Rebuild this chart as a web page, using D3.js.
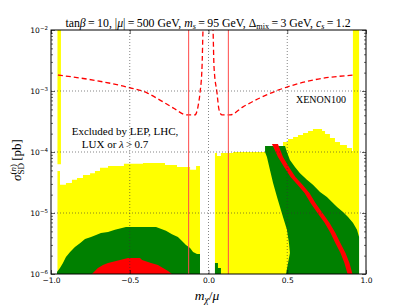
<!DOCTYPE html>
<meta charset="utf-8">
<style>
body { margin: 0; background: #fff; }
.tick text { font-family: "DejaVu Sans", sans-serif; font-size: 7.5px; fill: #000; }
.tick line { stroke: #000; stroke-width: .6px; }
.serif { font-family: "Liberation Serif", serif; fill: #000; }
.grid { stroke: #333; stroke-width: .6px; stroke-dasharray: 1,2; fill: none; }
.frame { stroke: #000; stroke-width: 1px; fill: none; }
</style>
<body>
<svg id="chart" width="407" height="305"></svg>
<script src="https://d3js.org/d3.v7.min.js"></script>
<script>

var pLeft = 51, pRight = 366, pTop = 30, pBottom = 274;
var YELLOW = "#ffff00", GREEN = "#008000", RED = "#ff0000";

// axis ticks
var xTicks = [-1, -0.5, 0, 0.5, 1];
var yTicks = [1e-6, 1e-5, 1e-4, 1e-3, 1e-2];
var xGrid = [-0.5, 0, 0.5];
var yGrid = [1e-5, 1e-4, 1e-3];

// yellow: thin strip at the left edge
var yStripX = [-0.959, -0.937];
var yStripTop = [1e-2, 1e-2];
var yStripLo = 6.3e-5;

// yellow, left lobe (step tops, from 1e-6)
var yLeftX = [-0.959, -0.943, -0.905, -0.867, -0.835, -0.797, -0.752, -0.721, -0.689, -0.638, -0.537, -0.416, -0.276, -0.2, -0.117, -0.079, -0.054];
var yLeftTop = [4.9e-5, 2.9e-5, 3.1e-5, 3.5e-5, 3.75e-5, 4.2e-5, 4.5e-5, 4.9e-5, 5.5e-5, 5.9e-5, 6.4e-5, 6.6e-5, 6.1e-5, 5.7e-5, 5.1e-5, 5.9e-5, 5.9e-5];

// yellow, middle + right (step tops)
var yRightX = [0.041, 0.054, 0.079, 0.156, 0.473, 0.505, 0.537, 0.568, 0.6, 0.632, 0.663, 0.721, 0.74, 0.771, 0.803, 0.835, 0.879, 0.911, 0.917, 0.956];
var yRightTop = [9.6e-5, 8.6e-5, 9.6e-5, 1.0e-4, 1.46e-4, 1.63e-4, 1.76e-4, 1.9e-4, 2.05e-4, 2.2e-4, 2.38e-4, 2.2e-4, 1.97e-4, 1.7e-4, 1.46e-4, 1.3e-4, 1.16e-4, 1.04e-4, 1e-2, 1e-2];

// green, left arc
var gLeftX = [-0.962, -0.943, -0.924, -0.905, -0.879, -0.848, -0.816, -0.784, -0.746, -0.714, -0.683, -0.638, -0.594, -0.524, -0.333, -0.27, -0.232, -0.194, -0.181, -0.162, -0.143, -0.117, -0.098, -0.073, -0.054];
var gLeftTop = [1.08e-6, 1.25e-6, 1.51e-6, 1.9e-6, 2.3e-6, 2.77e-6, 3.2e-6, 3.75e-6, 4.05e-6, 4.36e-6, 4.7e-6, 4.9e-6, 5.3e-6, 5.9e-6, 5.9e-6, 5.1e-6, 4.5e-6, 4.05e-6, 3.75e-6, 3.35e-6, 3.0e-6, 2.67e-6, 2.3e-6, 2.13e-6, 2.13e-6];

// green, small patch near zero
var gMidX = [0.041, 0.06, 0.079];
var gMidTop = [1.51e-6, 1.25e-6, 1.25e-6];

// green, right band (outline)
var gRightX = [0.359, 0.486, 0.498, 0.517, 0.549, 0.581, 0.625, 0.663, 0.708, 0.752, 0.784, 0.816, 0.854, 0.886, 0.917, 0.943, 0.956, 0.956, 0.492, 0.505, 0.517, 0.511, 0.498, 0.473, 0.454, 0.435, 0.410, 0.390, 0.371, 0.359];
var gRightY = [1.25e-4, 1.25e-4, 1e-4, 7.4e-5, 5.7e-5, 4.5e-5, 3.5e-5, 2.9e-5, 2.2e-5, 1.83e-5, 1.51e-5, 1.25e-5, 1.04e-5, 8.6e-6, 6.9e-6, 5.3e-6, 4.05e-6, 1e-6, 1e-6, 1.51e-6, 2.2e-6, 3.2e-6, 5.3e-6, 8.6e-6, 1.25e-5, 1.83e-5, 3.1e-5, 5.1e-5, 8.3e-5, 1e-4];

// red, left arc
var rLeftX = [-0.740, -0.721, -0.702, -0.670, -0.638, -0.587, -0.511, -0.435, -0.422, -0.365, -0.321, -0.289, -0.257, -0.232];
var rLeftTop = [1e-6, 1.12e-6, 1.25e-6, 1.41e-6, 1.51e-6, 1.63e-6, 1.83e-6, 1.83e-6, 1.7e-6, 1.51e-6, 1.41e-6, 1.25e-6, 1.12e-6, 1e-6];

// red, right stripe (left / right edge at each sigma)
var rRightY = [1.35e-4, 8.3e-5, 5.5e-5, 3.9e-5, 2.9e-5, 2.13e-5, 1.46e-5, 1e-5, 6.9e-6, 4.7e-6, 3.2e-6, 2.2e-6, 1.51e-6, 1e-6];
var rRightXL = [0.403, 0.441, 0.483, 0.521, 0.565, 0.610, 0.648, 0.692, 0.737, 0.775, 0.806, 0.838, 0.863, 0.883];
var rRightXR = [0.441, 0.473, 0.514, 0.552, 0.597, 0.641, 0.679, 0.724, 0.768, 0.806, 0.838, 0.870, 0.895, 0.914];

// XENON100 limit (dashed)
var xenonX = [-0.956, -0.733, -0.517, -0.390, -0.308, -0.225, -0.137, -0.086, -0.067, -0.054, -0.041, -0.035, -0.03, 0.025, 0.029, 0.035, 0.054, 0.067, 0.086, 0.137, 0.219, 0.327, 0.498, 0.663, 0.930];
var xenonY = [1.83e-3, 1.51e-3, 1.16e-3, 9.3e-4, 7.1e-4, 5.3e-4, 4.05e-4, 4.05e-4, 5.5e-4, 9.3e-4, 2.5e-3, 1e-2, 2e-2, 2e-2, 1e-2, 2.5e-3, 9.3e-4, 4.9e-4, 4.05e-4, 4.05e-4, 5.5e-4, 7.7e-4, 1.16e-3, 1.51e-3, 1.83e-3];

// vertical limits
var vLines = [-0.126, 0.126];

var x = d3.scaleLinear().domain([-1, 1]).range([pLeft, pRight]);
var y = d3.scaleLog().domain([1e-6, 1e-2]).range([pBottom, pTop]);

var svg = d3.select("#chart");

svg.append("defs").append("clipPath")
	.attr("id", "plotclip")
  .append("rect")
	.attr("x", pLeft).attr("y", pTop)
	.attr("width", pRight - pLeft).attr("height", pBottom - pTop);

var plot = svg.append("g").attr("clip-path", "url(#plotclip)");

function pts(xs, tops, lo) {
	return xs.map(function(v, i) { return [v, tops[i], lo]; });
}

var stepArea = d3.area().curve(d3.curveStepAfter)
	.x(function(d) { return x(d[0]); })
	.y0(function(d) { return y(d[2]); })
	.y1(function(d) { return y(d[1]); });

var linArea = d3.area()
	.x(function(d) { return x(d[0]); })
	.y0(function(d) { return y(d[2]); })
	.y1(function(d) { return y(d[1]); });

plot.append("path").attr("fill", YELLOW).attr("d", stepArea(pts(yStripX, yStripTop, yStripLo)));
plot.append("path").attr("fill", YELLOW).attr("d", stepArea(pts(yLeftX, yLeftTop, 1e-6)));
plot.append("path").attr("fill", YELLOW).attr("d", stepArea(pts(yRightX, yRightTop, 1e-6)));

plot.append("path").attr("fill", GREEN).attr("d", linArea(pts(gLeftX, gLeftTop, 1e-6)));
plot.append("path").attr("fill", GREEN).attr("d", stepArea(pts(gMidX, gMidTop, 1e-6)));
plot.append("path").attr("fill", GREEN)
	.attr("d", d3.line().x(function(d) { return x(d[0]); }).y(function(d) { return y(d[1]); })(d3.zip(gRightX, gRightY)) + "Z");

plot.append("path").attr("fill", RED).attr("d", linArea(pts(rLeftX, rLeftTop, 1e-6)));
plot.append("path").attr("fill", RED)
	.attr("d", d3.area()
		.y(function(d) { return y(d[0]); })
		.x0(function(d) { return x(d[1]); })
		.x1(function(d) { return x(d[2]); })(d3.zip(rRightY, rRightXL, rRightXR)));

// grid
svg.append("g").selectAll("line").data(xGrid).enter().append("line")
	.attr("class", "grid")
	.attr("x1", function(d) { return x(d); }).attr("x2", function(d) { return x(d); })
	.attr("y1", pTop).attr("y2", pBottom);
svg.append("g").selectAll("line").data(yGrid).enter().append("line")
	.attr("class", "grid")
	.attr("y1", function(d) { return y(d); }).attr("y2", function(d) { return y(d); })
	.attr("x1", pLeft).attr("x2", pRight);

plot.append("path")
	.datum(d3.zip(xenonX, xenonY))
	.attr("fill", "none").attr("stroke", RED).attr("stroke-width", 1.3)
	.attr("stroke-dasharray", "5,3")
	.attr("d", d3.line().curve(d3.curveMonotoneX)
		.x(function(d) { return x(d[0]); }).y(function(d) { return y(d[1]); }));

plot.selectAll(".vline").data(vLines).enter().append("line")
	.attr("class", "vline")
	.attr("stroke", "#ff4a4a").attr("stroke-width", 1)
	.attr("x1", function(d) { return x(d); }).attr("x2", function(d) { return x(d); })
	.attr("y1", pTop).attr("y2", pBottom);

// axes
var yMinor = y.ticks().filter(function(d) { return Math.abs(Math.log10(d) - Math.round(Math.log10(d))) > 1e-6; });

svg.append("g").attr("transform", "translate(0," + pBottom + ")")
	.call(d3.axisBottom(x).tickValues(xTicks).tickSize(-4).tickSizeOuter(0).tickPadding(4).tickFormat(d3.format(".1f")))
	.call(function(g) { g.select(".domain").remove(); });
svg.append("g").attr("transform", "translate(0," + pTop + ")")
	.call(d3.axisTop(x).tickValues(xTicks).tickSize(-4).tickSizeOuter(0).tickFormat(""))
	.call(function(g) { g.select(".domain").remove(); });

var yl = svg.append("g").attr("transform", "translate(" + pLeft + ",0)")
	.call(d3.axisLeft(y).tickValues(yTicks).tickSize(-4).tickSizeOuter(0).tickPadding(3).tickFormat(""))
	.call(function(g) { g.select(".domain").remove(); });
yl.selectAll(".tick text").each(function(d) {
	var t = d3.select(this).attr("text-anchor", "end").attr("dy", "0.32em");
	t.append("tspan").text("10");
	t.append("tspan").attr("dy", "-0.45em").attr("font-size", "5.5px").text("\u2212" + Math.round(-Math.log10(d)));
});
svg.append("g").attr("transform", "translate(" + pLeft + ",0)")
	.call(d3.axisLeft(y).tickValues(yMinor).tickSize(-2).tickSizeOuter(0).tickFormat(""))
	.call(function(g) { g.select(".domain").remove(); });
svg.append("g").attr("transform", "translate(" + pRight + ",0)")
	.call(d3.axisRight(y).tickValues(yTicks).tickSize(-4).tickSizeOuter(0).tickFormat(""))
	.call(function(g) { g.select(".domain").remove(); });
svg.append("g").attr("transform", "translate(" + pRight + ",0)")
	.call(d3.axisRight(y).tickValues(yMinor).tickSize(-2).tickSizeOuter(0).tickFormat(""))
	.call(function(g) { g.select(".domain").remove(); });

svg.append("rect").attr("class", "frame")
	.attr("x", pLeft).attr("y", pTop).attr("width", pRight - pLeft).attr("height", pBottom - pTop);

// rich text helper: parts = [text, italic, "sub"|"sup"|null]
function rich(sel, parts, size) {
	var cur = 0;
	parts.forEach(function(p) {
		var target = p[2] === "sub" ? 0.25 * size : p[2] === "sup" ? -0.4 * size : 0;
		var ts = sel.append("tspan").text(p[0]).attr("dy", target - cur);
		if (p[1]) ts.attr("font-style", "italic");
		if (p[2]) ts.attr("font-size", (0.7 * size) + "px");
		cur = target;
	});
}

var title = svg.append("text").attr("class", "serif")
	.attr("x", (pLeft + pRight) / 2 - 0.5).attr("y", 26.5)
	.attr("text-anchor", "middle").attr("font-size", "11.8px");
rich(title, [["tan"], ["\u03b2", 1], ["\u2009=\u200910, |"], ["\u03bc", 1], ["|\u2009=\u2009500 GeV, "],
	["m", 1], ["s", 1, "sub"], ["\u2009=\u200995 GeV, \u0394"], ["mix", 0, "sub"], ["\u2009=\u20093 GeV, "],
	["c", 1], ["s", 1, "sub"], ["\u2009=\u20091.2"]], 11.8);

svg.append("text").attr("class", "serif").attr("font-size", "11px")
	.attr("x", 125).attr("y", 135).attr("text-anchor", "middle")
	.text("Excluded by LEP, LHC,");
var t2 = svg.append("text").attr("class", "serif").attr("font-size", "11px")
	.attr("x", 115).attr("y", 148).attr("text-anchor", "middle");
rich(t2, [["LUX or "], ["\u03bb", 1], ["\u2009>\u20090.7"]], 11);

svg.append("text").attr("class", "serif").attr("font-size", "10px")
	.attr("x", 296).attr("y", 103).text("XENON100");

var xlab = svg.append("text").attr("class", "serif").attr("font-size", "13.5px")
	.attr("x", 207).attr("y", 300).attr("text-anchor", "middle");
rich(xlab, [["m", 1], ["\u03c7", 1, "sub"], ["/"], ["\u03bc", 1]], 13.5);

var ylab = svg.append("text").attr("class", "serif").attr("font-size", "13px")
	.attr("transform", "translate(21,160) rotate(-90)").attr("text-anchor", "middle");
ylab.append("tspan").attr("font-style", "italic").text("\u03c3");
var sd = ylab.append("tspan").attr("font-size", "9px").attr("dy", 3).text("SD");
var sdw = sd.node().getComputedTextLength();
ylab.append("tspan").attr("font-size", "9px").attr("dx", -sdw).attr("dy", -8.5).text("(").append("tspan").attr("font-style", "italic").text("n");
ylab.append("tspan").attr("font-size", "9px").text(")");
ylab.append("tspan").attr("dy", 5.5).text(" [pb]");

</script>
</body>
</html>
